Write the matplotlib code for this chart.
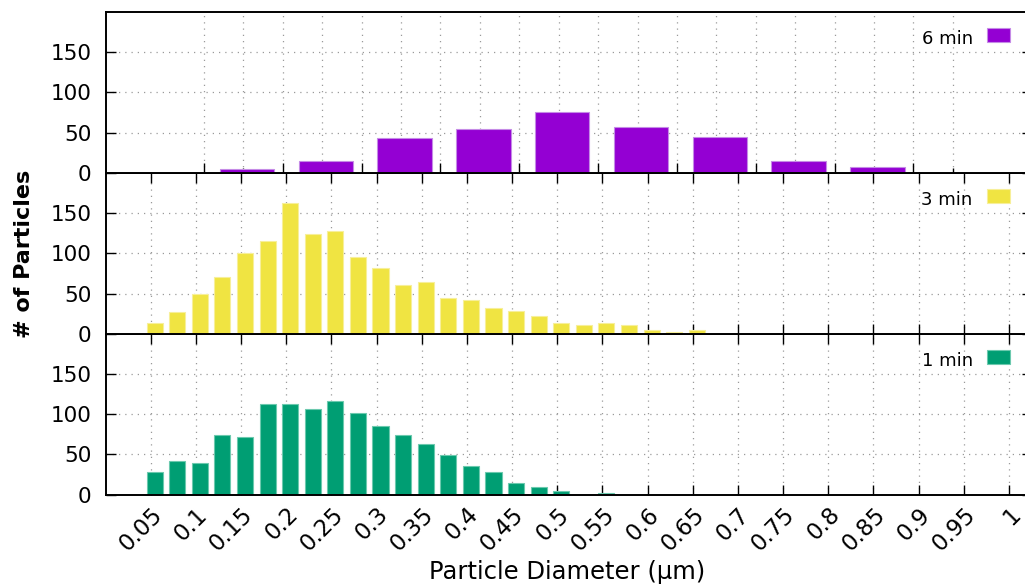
import numpy as np
import matplotlib.pyplot as plt
from matplotlib.patches import Rectangle
from matplotlib.ticker import FuncFormatter


# --- data ---
diam_fine = [0.05, 0.075, 0.1, 0.125, 0.15, 0.175, 0.2, 0.225, 0.25, 0.275,
             0.3, 0.325, 0.35, 0.375, 0.4, 0.425, 0.45, 0.475, 0.5, 0.525,
             0.55, 0.575, 0.6, 0.625, 0.65]
count_1min = [28, 42, 40, 74, 72, 113, 113, 107, 116, 101, 86, 74, 63, 49,
              36, 28, 15, 9, 5, 0, 2]
count_3min = [13, 27, 50, 71, 100, 115, 163, 124, 128, 95, 82, 61, 65, 44,
              42, 32, 28, 22, 13, 11, 13, 11, 5, 2, 5]

diam_coarse = [0.15, 0.25, 0.35, 0.45, 0.55, 0.65, 0.75, 0.85, 0.95]
count_6min = [5, 15, 43, 55, 76, 57, 45, 15, 7]

x_ticks = [0.05, 0.1, 0.15, 0.2, 0.25, 0.3, 0.35, 0.4, 0.45, 0.5, 0.55, 0.6,
           0.65, 0.7, 0.75, 0.8, 0.85, 0.9, 0.95, 1.0]
y_ticks = [0, 50, 100, 150]

colors = {"6 min": "#9400d3", "3 min": "#f0e442", "1 min": "#009e73"}
edges = {"6 min": "#c58be6", "3 min": "#f7ef9a", "1 min": "#6cc9ae"}

shift = 0.0044  # boxes sit a few px right of their bin centre in the original
grid_kw = dict(color="#9a9a9a", linewidth=0.9, linestyle=(0, (1, 4)))


fig = plt.figure(figsize=(10.25, 5.86), dpi=100)
W_PX, H_PX = 1025, 586
left = 105.5 / W_PX
width = (1031.6 - 105.5) / W_PX
height = 160.9 / H_PX
b0 = 1 - 494.7 / H_PX

ax_bot = fig.add_axes([left, b0, width, height])
ax_mid = fig.add_axes([left, b0 + height, width, height], sharex=ax_bot)
ax_top = fig.add_axes([left, b0 + 2 * height, width, height])


def style_panel(ax):
    ax.set_ylim(0, 200)
    ax.set_yticks(y_ticks)
    ax.tick_params(axis="y", direction="in", length=7, width=1.0,
                   left=True, right=True, labelsize=15.5, pad=10)
    ax.grid(axis="y", **grid_kw)
    ax.set_axisbelow(True)
    for s in ax.spines.values():
        s.set_linewidth(1.4)


def add_key(ax, label):
    tx = (972.7 - 105.5) / (1031.6 - 105.5)
    ax.text(tx, 1 - 32.3 / 160.9, label, transform=ax.transAxes,
            ha="right", va="baseline", fontsize=13)
    bx = (987 - 105.5) / (1031.6 - 105.5)
    ax.add_patch(Rectangle((bx, 1 - 29.7 / 160.9), 23 / (1031.6 - 105.5),
                           14 / 160.9, transform=ax.transAxes,
                           facecolor=colors[label], edgecolor=edges[label],
                           linewidth=0.8, clip_on=False))


# lower two panels share the labelled diameter axis
for ax, counts, label in [(ax_bot, count_1min, "1 min"), (ax_mid, count_3min, "3 min")]:
    style_panel(ax)
    x = np.array(diam_fine[:len(counts)]) + shift
    ax.bar(x, counts, width=0.0178, color=colors[label],
           edgecolor=edges[label], linewidth=0.8, zorder=2)
    ax.set_xlim(0, 1.025)
    ax.set_xticks(x_ticks)
    ax.grid(axis="x", **grid_kw)
    ax.tick_params(axis="x", direction="in", length=7, width=1.0,
                   bottom=True, top=True, labelsize=16.5, pad=6)
    add_key(ax, label)

ax_mid.tick_params(axis="x", labelbottom=False)
ax_bot.xaxis.set_major_formatter(FuncFormatter(lambda v, p: f"{v:g}"))
plt.setp(ax_bot.get_xticklabels(), rotation=45, ha="right", rotation_mode="anchor")

# top panel has its own coarser axis
style_panel(ax_top)
ax_top.bar(np.array(diam_coarse) + shift, count_6min, width=0.069,
           color=colors["6 min"], edgecolor=edges["6 min"], linewidth=0.8, zorder=2)
ax_top.set_xlim(-0.025, 1.15)
ax_top.set_xticks([0.1, 0.2, 0.3, 0.4, 0.5, 0.6, 0.7, 0.8, 0.9, 1.0])
ax_top.set_xticks([0.15, 0.25, 0.35, 0.45, 0.55, 0.65, 0.75, 0.85, 0.95, 1.05], minor=True)
ax_top.grid(axis="x", which="both", **grid_kw)
ax_top.tick_params(axis="x", which="major", direction="in", length=7, width=1.0,
                   bottom=True, top=False, labelbottom=False)
ax_top.tick_params(axis="x", which="minor", direction="in", length=3.5, width=1.0,
                   bottom=True, top=False)
add_key(ax_top, "6 min")

fig.text(24 / W_PX, 1 - 253.5 / H_PX, "# of Particles", rotation=90,
         ha="center", va="center", fontsize=16, fontweight="bold")
fig.text(567 / W_PX, 1 - 579.3 / H_PX, "Particle Diameter (µm)",
         ha="center", va="baseline", fontsize=17.5)

fig.savefig("out.png", dpi=100)
